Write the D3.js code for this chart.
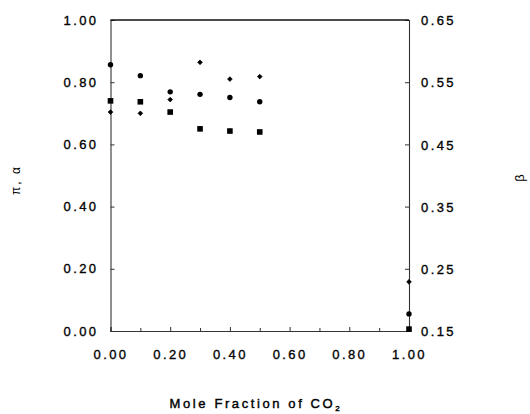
<!DOCTYPE html>
<html lang="en">
<head>
<meta charset="utf-8">
<title>Mole fraction chart</title>
<script src="https://d3js.org/d3.v7.min.js"></script>
<style>
  body { margin: 0; background: #fff; }
  text { font-family: "Liberation Sans", Arial, sans-serif; fill: #000; }
</style>
</head>
<body>
<script>
    // values
    var moleFrac = [0.0, 0.1, 0.2, 0.3, 0.4, 0.5, 1.0];
    var piVals   = [0.856, 0.821, 0.769, 0.761, 0.751, 0.737, 0.055];   // circles, left axis
    var alphaVals = [0.740, 0.737, 0.704, 0.650, 0.643, 0.640, 0.006];  // squares, left axis
    var betaVals = [0.502, 0.500, 0.522, 0.582, 0.555, 0.559, 0.229];   // diamonds, right axis

    var xTicks = [0, 0.2, 0.4, 0.6, 0.8, 1.0];
    var xMinor = [0.1, 0.3, 0.5, 0.7, 0.9];
    var leftTicks = [0, 0.2, 0.4, 0.6, 0.8, 1.0];
    var rightTicks = [0.15, 0.25, 0.35, 0.45, 0.55, 0.65];

    var width = 530, height = 414;
    var margin = {top: 20, right: 121, bottom: 83, left: 110.5};

    const svg = d3.select("body")
        .append("svg")
        .attr("width", width)
        .attr("height", height);

    var x = d3.scaleLinear().domain([0, 1]).range([margin.left, width - margin.right]);
    var yL = d3.scaleLinear().domain([0, 1]).range([height - margin.bottom, margin.top]);
    var yR = d3.scaleLinear().domain([0.15, 0.65]).range([height - margin.bottom, margin.top]);

    // bottom axis, ticks pointing inward
    svg.append("g")
        .attr("transform", "translate(0," + (height - margin.bottom) + ")")
        .call(d3.axisBottom(x).tickValues(xTicks).tickSize(-4).tickPadding(19).tickFormat(d3.format(".2f")));
    svg.append("g")
        .attr("transform", "translate(0," + (height - margin.bottom) + ")")
        .call(d3.axisBottom(x).tickValues(xMinor).tickSize(-3).tickFormat(""))
        .select(".domain").remove();

    svg.append("g")
        .attr("transform", "translate(" + margin.left + ",0)")
        .call(d3.axisLeft(yL).tickValues(leftTicks).tickSize(-4).tickPadding(12).tickFormat(d3.format(".2f")));

    var rightAxis = svg.append("g")
        .attr("transform", "translate(" + (width - margin.right) + ",0)")
        .call(d3.axisRight(yR).tickValues(rightTicks).tickSize(-4).tickPadding(12).tickFormat(d3.format(".2f")));

    // top frame line
    svg.append("line")
        .attr("x1", x(0)).attr("x2", x(1))
        .attr("y1", yL(1)).attr("y2", yL(1))
        .attr("stroke", "#111").attr("stroke-width", 1.5);

    svg.selectAll(".domain").attr("stroke", "#333").attr("stroke-width", 1.1);
    svg.selectAll(".tick line").attr("stroke", "#333");
    svg.selectAll(".tick text")
        .style("font-size", "13px")
        .style("letter-spacing", "2.4px")
        .style("fill", "#000")
        .style("stroke", "#000")
        .style("stroke-width", "0.35px");
    rightAxis.selectAll(".tick text").attr("dy", "0.36em");

    // markers
    svg.append("g").selectAll("circle")
        .data(moleFrac)
        .join("circle")
        .attr("cx", d => x(d))
        .attr("cy", (d, i) => yL(piVals[i]))
        .attr("r", 2.7)
        .attr("fill", "#000");

    svg.append("g").selectAll("rect")
        .data(moleFrac)
        .join("rect")
        .attr("x", d => x(d) - 2.8)
        .attr("y", (d, i) => yL(alphaVals[i]) - 2.8)
        .attr("width", 5.6)
        .attr("height", 5.6)
        .attr("fill", "#000");

    svg.append("g").selectAll("path")
        .data(moleFrac)
        .join("path")
        .attr("transform", (d, i) => "translate(" + x(d) + "," + yR(betaVals[i]) + ") rotate(45)")
        .attr("d", d3.symbol().type(d3.symbolSquare).size(11))
        .attr("fill", "#000")
        .attr("stroke", "#000")
        .attr("stroke-width", 0.7);

    // axis titles
    svg.append("text")
        .attr("transform", "translate(20,180) rotate(-90)")
        .attr("text-anchor", "middle")
        .style("font-size", "12px")
        .style("letter-spacing", "2px")
        .text("π, α");

    svg.append("text")
        .attr("transform", "translate(524,178) rotate(-90)")
        .attr("text-anchor", "middle")
        .style("font-size", "13px")
        .text("β");

    var xt = svg.append("text")
        .attr("x", 256)
        .attr("y", 408)
        .attr("text-anchor", "middle")
        .style("font-size", "13px")
        .style("stroke", "#000")
        .style("stroke-width", "0.4px")
        .style("letter-spacing", "2.6px");
    xt.append("tspan").text("Mole Fraction of CO");
    xt.append("tspan").attr("dy", 3).style("font-size", "8px").text("2");
</script>
</body>
</html>
